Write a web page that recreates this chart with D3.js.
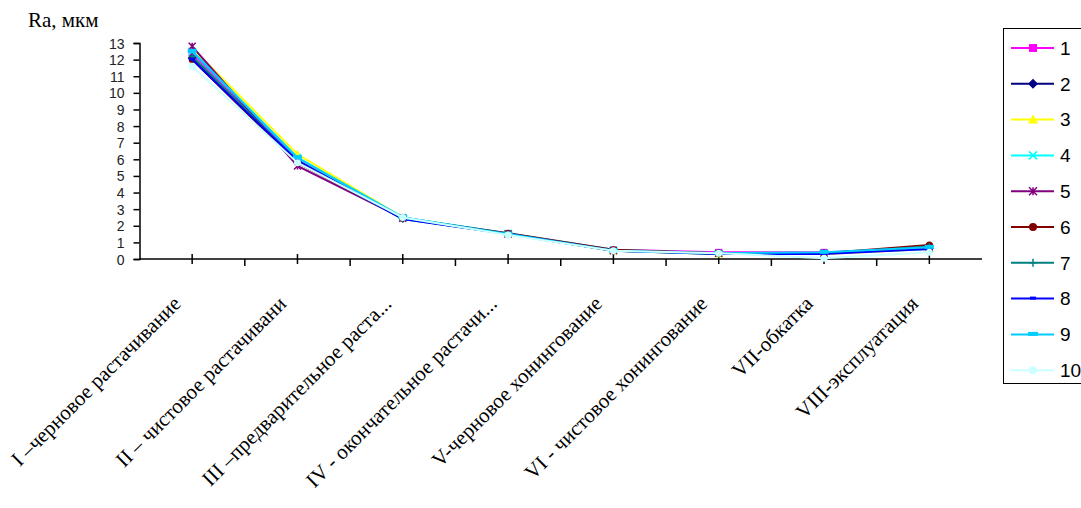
<!DOCTYPE html>
<html>
<head>
<meta charset="utf-8">
<script src="https://cdn.jsdelivr.net/npm/d3@7/dist/d3.min.js"></script>
<style>
  body { margin: 0; background: #fff; }
  svg { display: block; }
</style>
</head>
<body>
<div id="chart"></div>
<script>
// categories (stages)
var stages = [
    "I –черновое растачивание",
    "II – чистовое растачивани",
    "III –предварительное раста...",
    "IV -  окончательное растачи...",
    "V-черновое хонингование",
    "VI - чистовое хонингование",
    "VII-обкатка",
    "VIII-эксплуатация"
];

var seriesNames = ["1", "2", "3", "4", "5", "6", "7", "8", "9", "10"];

// Ra values per series
var s1 = [12.4, 6.0, 2.5, 1.5, 0.55, 0.4, 0.4, 0.6];
var s2 = [12.1, 5.9, 2.45, 1.5, 0.5, 0.35, 0.35, 0.65];
var s3 = [12.7, 6.3, 2.5, 1.5, 0.5, 0.3, 0.3, 0.6];
var s4 = [12.5, 6.1, 2.5, 1.55, 0.55, 0.35, 0.35, 0.6];
var s5 = [12.8, 5.6, 2.45, 1.5, 0.5, 0.35, 0.35, 0.7];
var s6 = [12.0, 5.8, 2.45, 1.55, 0.55, 0.35, 0.35, 0.85];
var s7 = [12.2, 5.9, 2.4, 1.5, 0.5, 0.3, 0.35, 0.75];
var s8 = [12.0, 5.9, 2.4, 1.5, 0.5, 0.3, 0.3, 0.6];
var s9 = [12.5, 6.1, 2.5, 1.5, 0.5, 0.35, 0.4, 0.7];
var s10 = [11.6, 5.8, 2.5, 1.45, 0.5, 0.35, 0.05, 0.4];

var yTicks = [0, 1, 2, 3, 4, 5, 6, 7, 8, 9, 10, 11, 12, 13];

var colors = ["#FF00FF", "#000080", "#FFFF00", "#00FFFF", "#800080",
              "#800000", "#008080", "#0000FF", "#00CCFF", "#CCFFFF"];
var markers = ["square", "diamond", "triangle", "x", "star",
               "circle", "plus", "dash", "longdash", "circle"];

var allSeries = [s1, s2, s3, s4, s5, s6, s7, s8, s9, s10];

var width = 1081, height = 508;

var svg = d3.select("#chart")
    .append("svg")
    .attr("width", width)
    .attr("height", height);

svg.append("rect")
    .attr("width", width)
    .attr("height", height)
    .attr("fill", "#fff");

var x = d3.scaleBand()
    .domain(stages)
    .range([139.5, 982]);

var y = d3.scaleLinear()
    .domain([0, 13])
    .range([259, 43]);

function cx(d) { return x(d) + x.bandwidth() / 2; }

// y title
svg.append("text")
    .attr("x", 28)
    .attr("y", 27)
    .attr("font-family", "Liberation Serif, Times New Roman, serif")
    .attr("font-size", "21px")
    .attr("fill", "#000")
    .text("Ra, мкм");

// y axis
var gy = svg.append("g")
    .attr("transform", "translate(139.5,0)")
    .call(d3.axisLeft(y).tickValues(yTicks).tickSize(6).tickPadding(0));

gy.select(".domain").attr("stroke", "#000").attr("stroke-width", 1.5);
gy.selectAll(".tick line").attr("stroke", "#000").attr("stroke-width", 1.5);
gy.selectAll(".tick text")
    .attr("x", -15)
    .attr("dy", "0.36em")
    .attr("font-family", "Liberation Sans, Arial, sans-serif")
    .attr("font-size", "14px")
    .attr("fill", "#222");

// x axis
var gx = svg.append("g");
gx.append("line")
    .attr("x1", 139.5).attr("x2", 982)
    .attr("y1", y(0)).attr("y2", y(0))
    .attr("stroke", "#000").attr("stroke-width", 1.5);

// ticks at category boundaries (below) and at category centres (crossing)
gx.selectAll("line.bt")
    .data(stages.slice(1))
    .enter().append("line")
    .attr("class", "bt")
    .attr("x1", function(d) { return x(d); })
    .attr("x2", function(d) { return x(d); })
    .attr("y1", y(0)).attr("y2", y(0) + 7)
    .attr("stroke", "#000").attr("stroke-width", 1.5);

gx.selectAll("line.ct")
    .data(stages)
    .enter().append("line")
    .attr("class", "ct")
    .attr("x1", cx).attr("x2", cx)
    .attr("y1", y(0) - 5).attr("y2", y(0) + 5)
    .attr("stroke", "#000").attr("stroke-width", 1.5);

gx.selectAll("text")
    .data(stages)
    .enter().append("text")
    .attr("transform", function(d) {
        return "translate(" + (cx(d) - 10) + "," + (y(0) + 46) + ") rotate(-45)";
    })
    .attr("text-anchor", "end")
    .attr("font-family", "Liberation Serif, Times New Roman, serif")
    .attr("font-size", "21px")
    .attr("fill", "#000")
    .text(function(d) { return d; });

// markers
function drawMarker(g, type, color, px, py, s) {
    var h = s / 2;
    if (type === "square") {
        g.append("rect").attr("x", px - h).attr("y", py - h)
            .attr("width", s).attr("height", s).attr("fill", color);
    } else if (type === "diamond") {
        g.append("path").attr("d", "M" + px + "," + (py - h - 1) + "L" + (px + h + 1) + "," + py +
            "L" + px + "," + (py + h + 1) + "L" + (px - h - 1) + "," + py + "Z").attr("fill", color);
    } else if (type === "triangle") {
        g.append("path").attr("d", "M" + px + "," + (py - h - 1) + "L" + (px + h + 1) + "," + (py + h) +
            "L" + (px - h - 1) + "," + (py + h) + "Z").attr("fill", color);
    } else if (type === "x") {
        g.append("path").attr("d", "M" + (px - h) + "," + (py - h) + "L" + (px + h) + "," + (py + h) +
            "M" + (px + h) + "," + (py - h) + "L" + (px - h) + "," + (py + h))
            .attr("stroke", color).attr("stroke-width", 1.5).attr("fill", "none");
    } else if (type === "star") {
        g.append("path").attr("d", "M" + (px - h) + "," + (py - h) + "L" + (px + h) + "," + (py + h) +
            "M" + (px + h) + "," + (py - h) + "L" + (px - h) + "," + (py + h) +
            "M" + px + "," + (py - h) + "L" + px + "," + (py + h))
            .attr("stroke", color).attr("stroke-width", 1.5).attr("fill", "none");
    } else if (type === "circle") {
        g.append("circle").attr("cx", px).attr("cy", py).attr("r", h).attr("fill", color);
    } else if (type === "plus") {
        g.append("path").attr("d", "M" + (px - h) + "," + py + "L" + (px + h) + "," + py +
            "M" + px + "," + (py - h) + "L" + px + "," + (py + h))
            .attr("stroke", color).attr("stroke-width", 1.5).attr("fill", "none");
    } else if (type === "dash") {
        g.append("rect").attr("x", px - 3).attr("y", py - 2)
            .attr("width", 6).attr("height", 3).attr("fill", color);
    } else if (type === "longdash") {
        g.append("rect").attr("x", px - h - 1).attr("y", py - 2.5)
            .attr("width", s + 2).attr("height", 4).attr("fill", color);
    }
}

var line = d3.line()
    .x(function(d, i) { return cx(stages[i]); })
    .y(function(d) { return y(d); });

var gs = svg.append("g").attr("class", "series");
allSeries.forEach(function(vals, k) {
    var g = gs.append("g");
    g.append("path")
        .attr("d", line(vals))
        .attr("fill", "none")
        .attr("stroke", colors[k])
        .attr("stroke-width", 2);
    vals.forEach(function(v, i) {
        drawMarker(g, markers[k], colors[k], cx(stages[i]), y(v), 7);
    });
});

// legend
var lg = svg.append("g").attr("class", "legend");
lg.append("rect")
    .attr("x", 1003.5).attr("y", 28.5)
    .attr("width", 90).attr("height", 355)
    .attr("fill", "#fff")
    .attr("stroke", "#000").attr("stroke-width", 1);

seriesNames.forEach(function(name, k) {
    var ly = 48 + k * 35.8;
    lg.append("line")
        .attr("x1", 1011).attr("x2", 1054)
        .attr("y1", ly).attr("y2", ly)
        .attr("stroke", colors[k]).attr("stroke-width", 2);
    drawMarker(lg, markers[k], colors[k], 1033, ly, 8);
    lg.append("text")
        .attr("x", 1060)
        .attr("y", ly)
        .attr("dy", "0.36em")
        .attr("font-family", "Liberation Sans, Arial, sans-serif")
        .attr("font-size", "19px")
        .attr("fill", "#000")
        .text(name);
});
</script>
</body>
</html>
